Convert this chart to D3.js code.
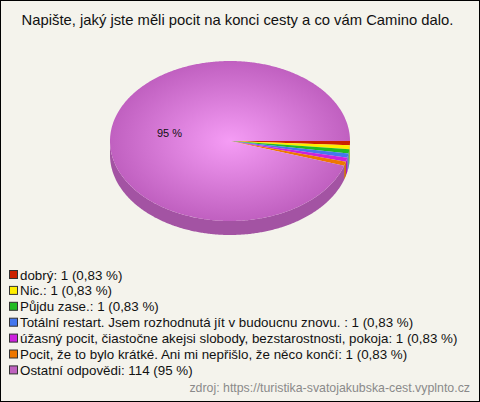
<!DOCTYPE html>
<html><head><meta charset="utf-8">
<script src="https://cdn.jsdelivr.net/npm/d3@7"></script>
<style>
html,body{margin:0;padding:0;background:#fff;}
svg{display:block;font-family:"Liberation Sans",Arial,sans-serif;}
</style></head>
<body>
<svg id="chart" width="480" height="402"></svg>
<script>
const title = "Napište, jaký jste měli pocit na konci cesty a co vám Camino dalo.";
const categories = [
  "dobrý",
  "Nic.",
  "Půjdu zase.",
  "Totální restart. Jsem rozhodnutá jít v budoucnu znovu. ",
  "úžasný pocit, čiastočne akejsi slobody, bezstarostnosti, pokoja",
  "Pocit, že to bylo krátké. Ani mi nepřišlo, že něco končí",
  "Ostatní odpovědi"
];
const counts = [1, 1, 1, 1, 1, 1, 114];
const percentLabels = ["0,83 %", "0,83 %", "0,83 %", "0,83 %", "0,83 %", "0,83 %", "95 %"];
const colors = ["#cc2200", "#ffee00", "#22bb22", "#4477ee", "#cc22dd", "#ee7700", "#bf62bf"];
const sourceText = "zdroj: https://turistika-svatojakubska-cest.vyplnto.cz";

const W = 480, H = 402;
const svg = d3.select("#chart");
svg.append("rect").attr("x",0.5).attr("y",0.5).attr("width",W-1).attr("height",H-1)
  .attr("fill","#f4f3ec").attr("stroke","#000");

svg.append("text").attr("x",237.5).attr("y",25).attr("text-anchor","middle")
  .attr("font-size",14.8).attr("fill","#111").text(title);

const cx = 230, cy = 141, rx = 120, ry = 80, depth = 14;
const defs = svg.append("defs");
const grad = defs.append("radialGradient").attr("id","purpleGrad")
  .attr("gradientUnits","userSpaceOnUse").attr("cx",cx).attr("cy",cy).attr("r",rx)
  .attr("gradientTransform",`translate(${cx},${cy}) scale(1,${ry/rx}) translate(${-cx},${-cy})`);
grad.append("stop").attr("offset","0%").attr("stop-color","#f59cf5");
grad.append("stop").attr("offset","100%").attr("stop-color","#c060c0");

const pie = d3.pie().sort(null).value(d => d).startAngle(Math.PI/2).endAngle(Math.PI/2 + 2*Math.PI);
const arcs = pie(counts);

const pt = a => [cx + rx*Math.sin(a), cy - ry*Math.cos(a)];
function arcPts(a0, a1) {
  const n = Math.max(2, Math.ceil((a1-a0)/0.01));
  return d3.range(n+1).map(i => pt(a0 + (a1-a0)*i/n));
}
const line = d3.line();

const g = svg.append("g");
arcs.forEach((d,i) => {
  const ranges = [[Math.PI/2, 3*Math.PI/2],[Math.PI/2+2*Math.PI, 3*Math.PI/2+2*Math.PI]];
  ranges.forEach(([lo,hi]) => {
    const a0 = Math.max(d.startAngle, lo), a1 = Math.min(d.endAngle, hi);
    if (a1 <= a0) return;
    const top = arcPts(a0, a1);
    const bottom = top.map(p => [p[0], p[1]+depth]).reverse();
    const c = d3.color(colors[i]).darker(i===6 ? 0.45 : 0.5);
    g.append("path").attr("d", line(top.concat(bottom)) + "Z").attr("fill", c.formatHex());
  });
});
arcs.forEach((d,i) => {
  const pts = [[cx,cy]].concat(arcPts(d.startAngle, d.endAngle));
  g.append("path").attr("d", line(pts) + "Z")
    .attr("fill", i===6 ? "url(#purpleGrad)" : colors[i]);
});

svg.append("text").attr("x",157).attr("y",137).attr("font-size",11).attr("fill","#111")
  .text(percentLabels[6]);

const leg = svg.append("g");
categories.forEach((c,i) => {
  const y = 275 + i*15.9;
  leg.append("rect").attr("x",9.5).attr("y",y-4.5).attr("width",8).attr("height",8)
    .attr("fill",colors[i]).attr("stroke","#333").attr("stroke-width",1);
  leg.append("text").attr("x",20).attr("y",y+4.5).attr("font-size",13.35).attr("fill","#111")
    .text(`${c}: ${counts[i]} (${percentLabels[i]})`);
});

svg.append("text").attr("x",470).attr("y",392).attr("text-anchor","end")
  .attr("font-size",12.35).attr("fill","#8a8a8a").text(sourceText);
</script>
</body></html>
